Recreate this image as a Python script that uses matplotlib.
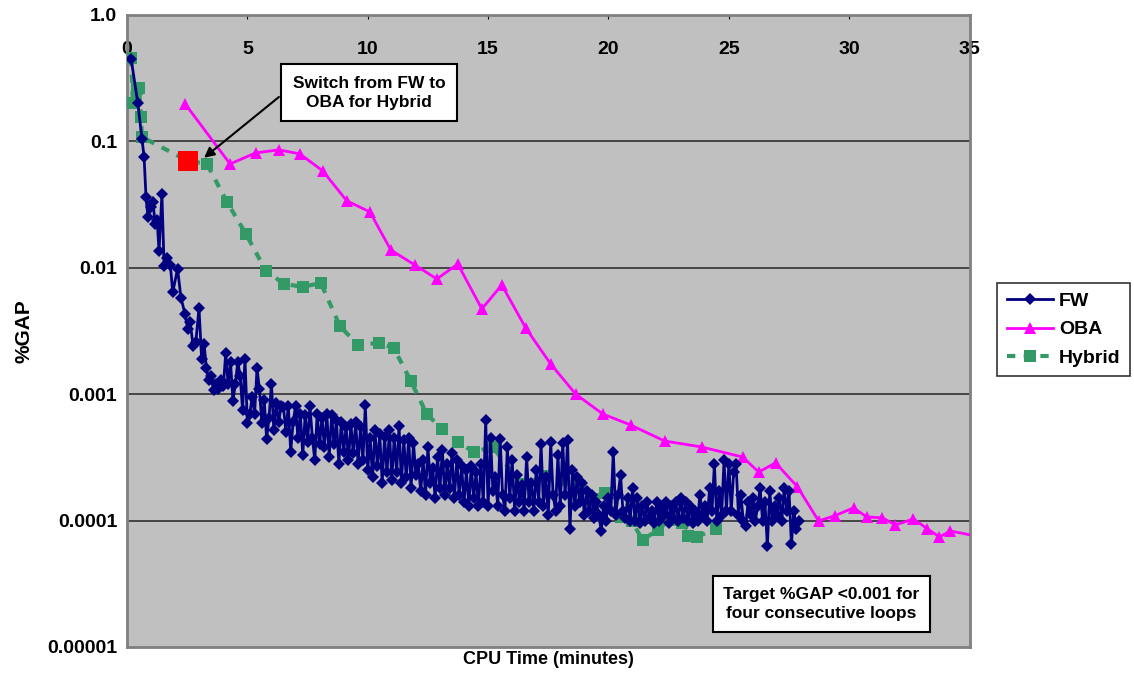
import matplotlib
matplotlib.use("Agg")
import matplotlib.pyplot as plt
from matplotlib.ticker import FixedLocator, FixedFormatter, NullLocator

plt.rcParams["font.family"] = ["Liberation Sans", "DejaVu Sans"]
plt.rcParams["font.weight"] = "bold"

# -------------------------------
# Data
# -------------------------------

fw_time = [
    0.17, 0.45, 0.62, 0.71, 0.79, 0.87, 1.00, 1.08, 1.17, 1.25, 1.33, 1.45, 1.54,
    1.66, 1.80, 1.90, 2.10, 2.24, 2.41, 2.52, 2.62, 2.75, 2.86, 2.99, 3.10, 3.20,
    3.3, 3.4, 3.5, 3.6, 3.7, 3.8, 3.9, 4.0, 4.1, 4.2, 4.3, 4.4, 4.5, 4.6, 4.7, 4.8, 4.9, 5.0,
    5.1, 5.2, 5.3, 5.4, 5.5, 5.6, 5.7, 5.8, 5.9, 6.0, 6.1, 6.2, 6.3, 6.4, 6.5, 6.6, 6.7, 6.8, 6.9, 7.0,
    7.1, 7.2, 7.3, 7.4, 7.5, 7.6, 7.7, 7.8, 7.9, 8.0, 8.1, 8.2, 8.3, 8.4, 8.5, 8.6, 8.7, 8.8, 8.9, 9.0,
    9.1, 9.2, 9.3, 9.4, 9.5, 9.6, 9.7, 9.8, 9.9, 10.0, 10.1, 10.2, 10.3, 10.4, 10.5, 10.6, 10.7, 10.8, 10.9, 11.0,
    11.1, 11.2, 11.3, 11.4, 11.5, 11.6, 11.7, 11.8, 11.9, 12.0, 12.1, 12.2, 12.3, 12.4, 12.5, 12.6, 12.7, 12.8, 12.9, 13.0,
    13.1, 13.2, 13.3, 13.4, 13.5, 13.6, 13.7, 13.8, 13.9, 14.0, 14.1, 14.2, 14.3, 14.4, 14.5, 14.6, 14.7, 14.8, 14.9, 15.0,
    15.1, 15.2, 15.3, 15.4, 15.5, 15.6, 15.7, 15.8, 15.9, 16.0, 16.1, 16.2, 16.3, 16.4, 16.5, 16.6, 16.7, 16.8, 16.9, 17.0,
    17.1, 17.2, 17.3, 17.4, 17.5, 17.6, 17.7, 17.8, 17.9, 18.0, 18.1, 18.2, 18.3, 18.4, 18.5, 18.6, 18.7, 18.8, 18.9, 19.0,
    19.1, 19.2, 19.3, 19.4, 19.5, 19.6, 19.7, 19.8, 19.9, 20.0, 20.1, 20.2, 20.3, 20.4, 20.5, 20.6, 20.7, 20.8, 20.9, 21.0,
    21.1, 21.2, 21.3, 21.4, 21.5, 21.6, 21.7, 21.8, 21.9, 22.0, 22.1, 22.2, 22.3, 22.4, 22.5, 22.6, 22.7, 22.8, 22.9, 23.0,
    23.1, 23.2, 23.3, 23.4, 23.5, 23.6, 23.7, 23.8, 23.9, 24.0, 24.1, 24.2, 24.3, 24.4, 24.5, 24.6, 24.7, 24.8, 24.9, 25.0,
    25.1, 25.2, 25.3, 25.4, 25.5, 25.6, 25.7, 25.8, 25.9, 26.0, 26.1, 26.2, 26.3, 26.4, 26.5, 26.6, 26.7, 26.8, 26.9, 27.0,
    27.1, 27.2, 27.3, 27.4, 27.5, 27.6, 27.7, 27.8, 27.9,
]

fw_gap = [
    0.45, 0.2, 0.105, 0.075, 0.036, 0.025, 0.030, 0.033, 0.022, 0.024, 0.0135, 0.038, 0.0104,
    0.012, 0.0105, 0.0064, 0.0098, 0.0058, 0.0043, 0.0033, 0.0037, 0.0024, 0.0026, 0.0048, 0.0019, 0.0025,
    # 3.3 - 5.0
    0.0016, 0.0013, 0.0014, 0.00107, 0.0012, 0.0011, 0.0013, 0.00115, 0.0021, 0.0012,
    0.0018, 0.00089, 0.0012, 0.0018, 0.0014, 0.00075, 0.0019, 0.00059,
    # 5.1 - 7.0
    0.0007, 0.00095, 0.0007, 0.0016, 0.0011, 0.00059, 0.0009, 0.00044, 0.00065, 0.0012,
    0.00052, 0.00085, 0.0006, 0.0008, 0.00079, 0.0005, 0.00081, 0.00035, 0.0006, 0.0008,
    # 7.1 - 9.0
    0.00045, 0.0007, 0.00033, 0.00068, 0.00042, 0.0008, 0.00045, 0.0003, 0.0007, 0.0004,
    0.00065, 0.00038, 0.0007, 0.00032, 0.00068, 0.0004, 0.00062, 0.00028, 0.0006, 0.00035,
    # 9.1 - 11.0
    0.00055, 0.0003, 0.00058, 0.00034, 0.0006, 0.00028, 0.00055, 0.0003, 0.00082, 0.00025,
    0.00045, 0.00022, 0.00052, 0.00027, 0.00048, 0.0002, 0.00046, 0.00024, 0.00052, 0.00021,
    # 11.1 - 13.0
    0.00045, 0.00024, 0.00056, 0.0002, 0.00043, 0.00022, 0.00045, 0.00018, 0.00041, 0.00023,
    0.00028, 0.00017, 0.0003, 0.00016, 0.00038, 0.0002, 0.00026, 0.00015, 0.00032, 0.00018,
    # 13.1 - 15.0
    0.00036, 0.00016, 0.00028, 0.00018, 0.00034, 0.00015, 0.0003, 0.00016, 0.00027, 0.00014,
    0.00025, 0.00013, 0.00027, 0.00015, 0.00024, 0.00013, 0.00028, 0.00014, 0.00062, 0.00013,
    # 15.1 - 17.0
    0.00045, 0.00017, 0.00022, 0.00013, 0.00044, 0.00016, 0.00012, 0.00038, 0.00015, 0.0003,
    0.00012, 0.00023, 0.00014, 0.00019, 0.00012, 0.00032, 0.00014, 0.0002, 0.00012, 0.00025,
    # 17.1 - 19.0
    0.00014, 0.0004, 0.00013, 0.00022, 0.00011, 0.00042, 0.00016, 0.00012, 0.00033, 0.00013,
    0.00041, 0.00016, 0.00043, 0.000085, 0.00025, 0.00013, 0.00022, 0.00014, 0.0002, 0.00011,
    # 19.1 - 21.0
    0.00017, 0.00012, 0.00016, 0.000105, 0.00014, 0.00011, 0.000083, 0.00013, 0.0001, 0.00015,
    0.00012, 0.00035, 0.00011, 0.00016, 0.00023, 0.00012, 0.000105, 0.00015, 0.0001, 0.00018,
    # 21.1 - 23.0
    0.0001, 0.00015, 0.000095, 0.00013, 0.0001, 0.00014, 0.000105, 0.00012, 0.000095, 0.00014,
    0.0001, 0.00013, 0.00011, 0.00014, 0.000095, 0.00013, 0.000105, 0.00014, 0.0001, 0.00015,
    # 23.1 - 25.0
    0.000105, 0.00014, 0.0001, 0.00013, 0.000095, 0.00012, 0.0001, 0.00016, 0.00011, 0.00013,
    0.0001, 0.00018, 0.00012, 0.00028, 0.0001, 0.00017, 0.00011, 0.0003, 0.00012, 0.00028,
    # 25.1 - 27.9
    0.00012, 0.00024, 0.00028, 0.00011, 0.00016, 0.0001, 0.00009, 0.00014, 0.00011, 0.00015,
    0.0001, 0.00013, 0.00018, 0.0001, 0.00014, 0.000063, 0.00017, 0.0001, 0.00013, 0.00011,
    0.00015, 0.0001, 0.00018, 0.00012, 0.00017, 0.000065, 0.00012, 0.000085, 0.0001,
]

oba_time = [2.41, 4.28, 5.35, 6.31, 7.18, 8.13, 9.13, 10.09, 10.96, 11.96, 12.87, 13.74,
            14.74, 15.57, 16.56, 17.60, 18.64, 19.76, 20.92, 22.33, 23.87, 25.57, 26.24,
            26.94, 27.85, 28.73, 29.39, 30.18, 30.72, 31.38, 31.92, 32.67, 33.25, 33.75,
            34.20, 35.8]
oba_gap = [0.198, 0.0662, 0.081, 0.0855, 0.0795, 0.0583, 0.0338, 0.0276, 0.0138, 0.0105,
           0.00815, 0.0107, 0.00472, 0.0073, 0.00334, 0.00173, 0.001, 0.000697, 0.00057,
           0.000426, 0.000382, 0.000318, 0.000242, 0.000286, 0.000185, 0.0000993, 0.000109,
           0.000126, 0.000107, 0.000105, 0.0000923, 0.000103, 0.0000859, 0.0000742,
           0.0000827, 0.000072]

hyb_time = [0.17, 0.25, 0.42, 0.50, 0.58, 0.62, 2.53, 3.32, 4.15, 4.94, 5.77, 6.52, 7.31,
            8.05, 8.84, 9.59, 10.46, 11.08, 11.79, 12.45, 13.08, 13.74, 14.40, 15.19, 16.36,
            17.43, 18.06, 18.80, 19.39, 19.84, 20.51, 20.96, 21.42, 22.04, 22.54, 23.04,
            23.29, 23.66, 24.45]
hyb_gap = [0.457, 0.201, 0.26, 0.264, 0.156, 0.108, 0.070, 0.0662, 0.0332, 0.0185, 0.00944,
           0.00745, 0.00705, 0.00758, 0.00346, 0.00245, 0.00254, 0.00232, 0.00127, 0.000697,
           0.000531, 0.000419, 0.000349, 0.000382, 0.000195, 0.000225, 0.00021, 0.000188,
           0.000148, 0.000165, 0.000107, 0.0000993, 0.0000703, 0.0000843, 0.000101,
           0.0000957, 0.0000755, 0.0000742, 0.0000859]

switch_time = 2.53
switch_gap = 0.070

x_ticks = [0, 5, 10, 15, 20, 25, 30, 35]
y_ticks = [1e-5, 1e-4, 1e-3, 1e-2, 1e-1, 1.0]
y_tick_labels = ["0.00001", "0.0001", "0.001", "0.01", "0.1", "1.0"]

# -------------------------------
# Figure
# -------------------------------

fig = plt.figure(figsize=(11.34, 6.75), dpi=100)
ax = fig.add_axes([0.112, 0.0415, 0.743, 0.9365])
ax.set_facecolor("#C0C0C0")

ax.set_yscale("log")
ax.set_ylim(1e-5, 1.0)
ax.set_xlim(0, 35)

for y in y_ticks[1:-1]:
    ax.axhline(y, color="#303030", linewidth=1.2, zorder=1)

ax.plot(hyb_time, hyb_gap, color="#339966", linestyle=(0, (2, 2)), linewidth=3,
        marker="s", markersize=9, markeredgewidth=0, label="Hybrid", zorder=3)
ax.plot(oba_time, oba_gap, color="#FF00FF", linewidth=2,
        marker="^", markersize=9, markeredgewidth=0, label="OBA", zorder=4)
ax.plot(fw_time, fw_gap, color="#000080", linewidth=2,
        marker="D", markersize=6.5, markeredgewidth=0, label="FW", zorder=5)
ax.plot([switch_time], [switch_gap], linestyle="none", marker="s", markersize=14,
        color="#FF0000", markeredgewidth=0, zorder=6)

# axis ticks and labels
ax.xaxis.set_major_locator(FixedLocator(x_ticks))
ax.tick_params(axis="x", top=True, bottom=False, labeltop=True, labelbottom=False,
               direction="in", length=3, pad=-31, labelsize=14)
ax.yaxis.set_major_locator(FixedLocator(y_ticks))
ax.yaxis.set_major_formatter(FixedFormatter(y_tick_labels))
ax.yaxis.set_minor_locator(NullLocator())
ax.tick_params(axis="y", length=0, pad=7, labelsize=14)
for lab in ax.get_xticklabels() + ax.get_yticklabels():
    lab.set_fontweight("bold")

for side in ["left", "right", "top", "bottom"]:
    ax.spines[side].set_color("#808080")
    ax.spines[side].set_linewidth(2)

ax.set_xlabel("CPU Time (minutes)", fontsize=13, fontweight="bold", labelpad=3)
ax.set_ylabel("%GAP", fontsize=15, fontweight="bold", labelpad=10)

# annotations
ax.text(10.05, 0.2415, "Switch from FW to\nOBA for Hybrid", ha="center", va="center",
        fontsize=12.5, fontweight="bold", linespacing=1.35,
        bbox=dict(boxstyle="square,pad=0.65", fc="white", ec="black", lw=1.5), zorder=7)
ax.annotate("", xy=(3.2, 0.074), xytext=(6.31, 0.224),
            arrowprops=dict(arrowstyle="-|>", color="black", lw=1.5, mutation_scale=15,
                            shrinkA=0, shrinkB=0),
            zorder=7)
ax.text(0.824, 0.068, "Target %GAP <0.001 for\nfour consecutive loops", transform=ax.transAxes,
        ha="center", va="center", fontsize=12.5, fontweight="bold", linespacing=1.35,
        bbox=dict(boxstyle="square,pad=0.6", fc="white", ec="black", lw=1.5), zorder=7)

# legend
handles, labels = ax.get_legend_handles_labels()
order = [2, 1, 0]
leg = fig.legend([handles[i] for i in order], [labels[i] for i in order],
                 loc="upper left", bbox_to_anchor=(0.879, 0.581), frameon=True,
                 fancybox=False, edgecolor="black", prop={"size": 14, "weight": "bold"},
                 handlelength=2.4, handletextpad=0.3, borderpad=0.5,
                 borderaxespad=0, labelspacing=0.55)
leg.get_frame().set_linewidth(1.2)

fig.savefig("out.png", dpi=100)
